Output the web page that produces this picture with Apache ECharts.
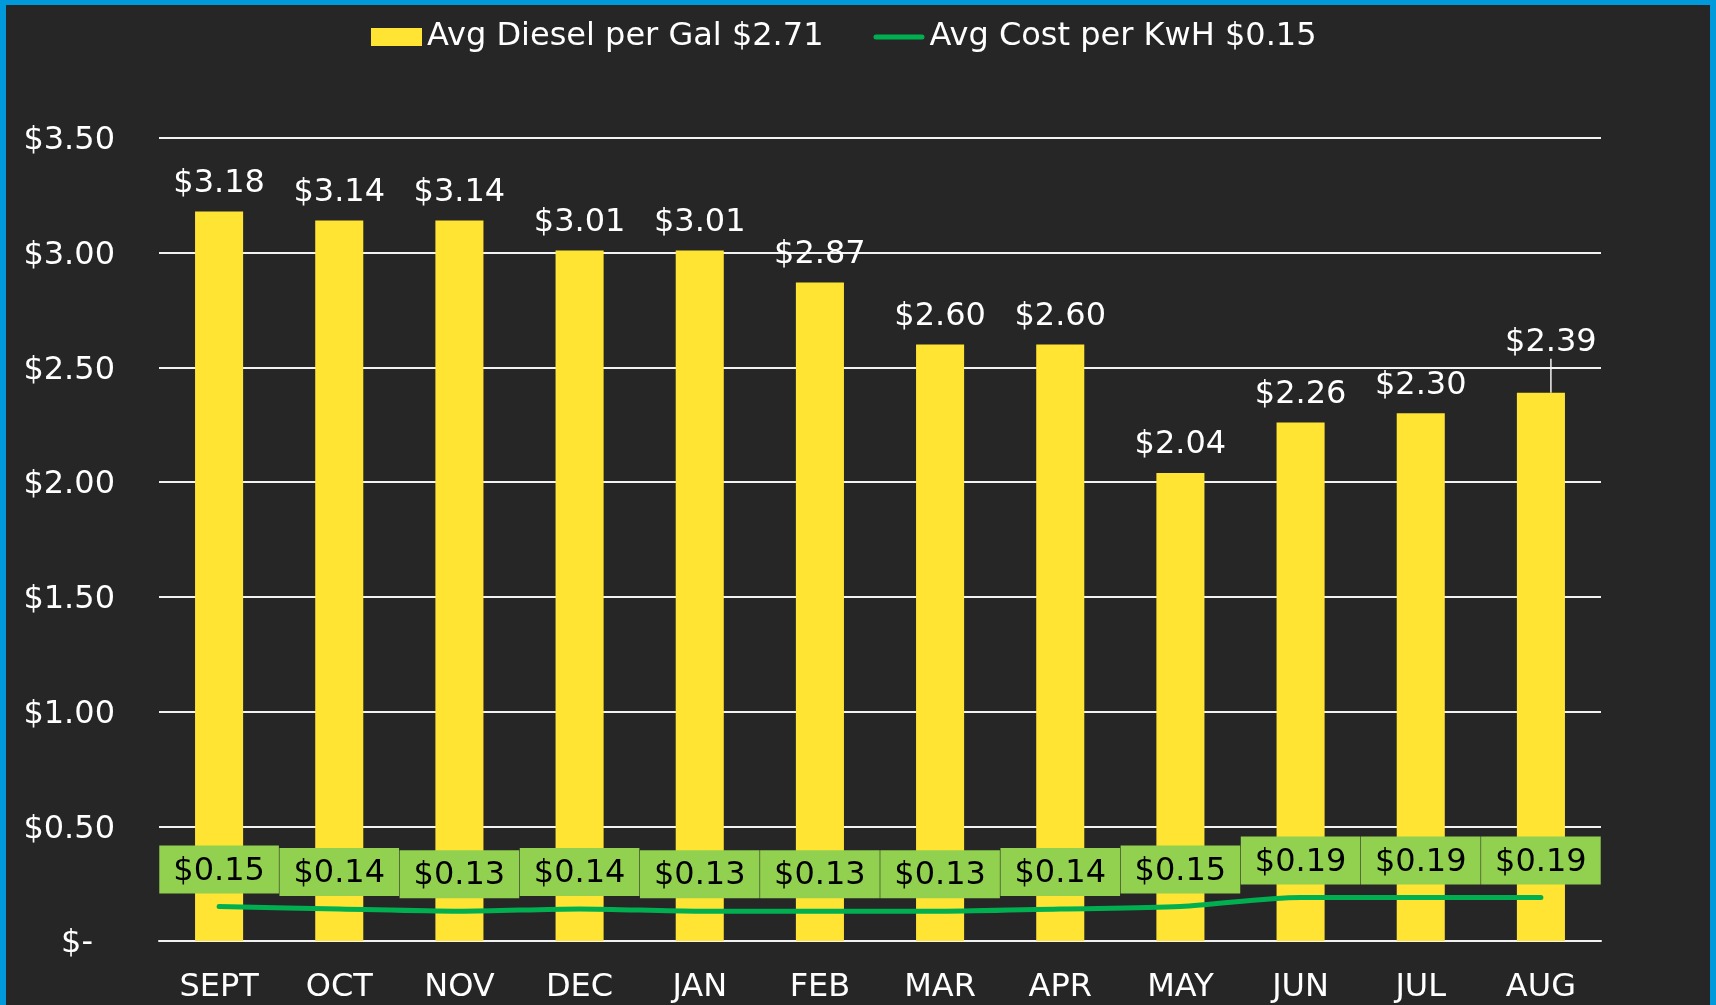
<!DOCTYPE html>
<html>
<head>
<meta charset="utf-8">
<script src="https://cdn.jsdelivr.net/npm/echarts@6/dist/echarts.min.js"></script>
<style>
html,body{margin:0;padding:0;background:#0099DA;}
#wrap{position:absolute;left:6px;top:5px;width:1704px;height:1000px;background:#262626;}
#chart{position:absolute;left:-6px;top:-5px;width:1716px;height:1005px;}
</style>
</head>
<body>
<div id="wrap"><div id="chart"></div></div>
<script>
const months = ['SEPT','OCT','NOV','DEC','JAN','FEB','MAR','APR','MAY','JUN','JUL','AUG'];
const dieselPerGal = [3.18, 3.14, 3.14, 3.01, 3.01, 2.87, 2.60, 2.60, 2.04, 2.26, 2.30, 2.39];
const costPerKwh = [0.15, 0.14, 0.13, 0.14, 0.13, 0.13, 0.13, 0.14, 0.15, 0.19, 0.19, 0.19];
const legendNames = ['Avg Diesel per Gal $2.71', 'Avg Cost per KwH $0.15'];

const FONT = 'Verdana, "DejaVu Sans", sans-serif';
const FS = 32;
const chart = echarts.init(document.getElementById('chart'), null, {renderer: 'canvas'});
const money = v => '$' + v.toFixed(2);
const lastIdx = dieselPerGal.length - 1;

chart.setOption({
  backgroundColor: 'transparent',
  animation: false,
  textStyle: {fontFamily: FONT},
  legend: {
    top: 16,
    left: 366,
    itemWidth: 51,
    itemHeight: 18,
    itemGap: 50,
    textStyle: {color: '#FFFFFF', fontSize: FS, fontFamily: FONT},
    data: [
      {name: legendNames[0], icon: 'rect'},
      {name: legendNames[1], icon: 'path://M0,0L0,0M0,18L0,18M2.5,6.5L48.5,6.5A2.5,2.5,0,0,1,48.5,11.5L2.5,11.5A2.5,2.5,0,0,1,2.5,6.5Z',
       itemStyle: {color: '#00B050'}}
    ]
  },
  grid: {left: 159, right: 115, top: 138, bottom: 64, containLabel: false},
  xAxis: {
    type: 'category',
    data: months,
    axisTick: {show: false},
    axisLine: {show: true, lineStyle: {color: '#F2F2F2', width: 2}},
    axisLabel: {color: '#FFFFFF', fontSize: FS, fontFamily: FONT, margin: 31}
  },
  yAxis: {
    type: 'value',
    min: 0,
    max: 3.5,
    interval: 0.5,
    axisLine: {show: false},
    axisTick: {show: false},
    splitLine: {lineStyle: {color: '#F2F2F2', width: 2}},
    axisLabel: {
      color: '#FFFFFF', fontSize: FS, fontFamily: FONT, margin: 44,
      padding: [6, 0, 0, 0],
      formatter: v => v === 0 ? '{d|$-}' : money(v),
      rich: {d: {color: '#FFFFFF', fontSize: FS, fontFamily: FONT, padding: [0, 22, 0, 0]}}
    }
  },
  series: [
    {
      name: legendNames[0],
      type: 'bar',
      data: dieselPerGal.map((v, i) => i === lastIdx ? {value: v, labelLine: {show: true}} : v),
      barCategoryGap: '60%',
      itemStyle: {color: '#FFE433'},
      label: {
        show: true, position: 'top', distance: 12,
        color: '#FFFFFF', fontSize: FS, fontFamily: FONT,
        formatter: p => money(p.value)
      },
      labelLine: {show: false, lineStyle: {color: '#F2F2F2', width: 1.5}},
      labelLayout: p => p.dataIndex === lastIdx ? {dx: 10, dy: -22} : {}
    },
    {
      name: legendNames[1],
      type: 'line',
      data: costPerKwh,
      smooth: 0.3,
      showSymbol: true,
      symbol: 'circle',
      symbolSize: 0,
      lineStyle: {color: '#00B050', width: 5, cap: 'round'},
      itemStyle: {color: '#00B050'},
      label: {
        show: true, position: 'top', distance: 13,
        color: '#000000', fontSize: FS, fontFamily: FONT,
        backgroundColor: '#92D050',
        padding: [10, 14, 6, 14],
        formatter: p => money(p.value)
      },
      labelLayout: {hideOverlap: false},
      z: 5
    }
  ]
});
</script>
</body>
</html>
